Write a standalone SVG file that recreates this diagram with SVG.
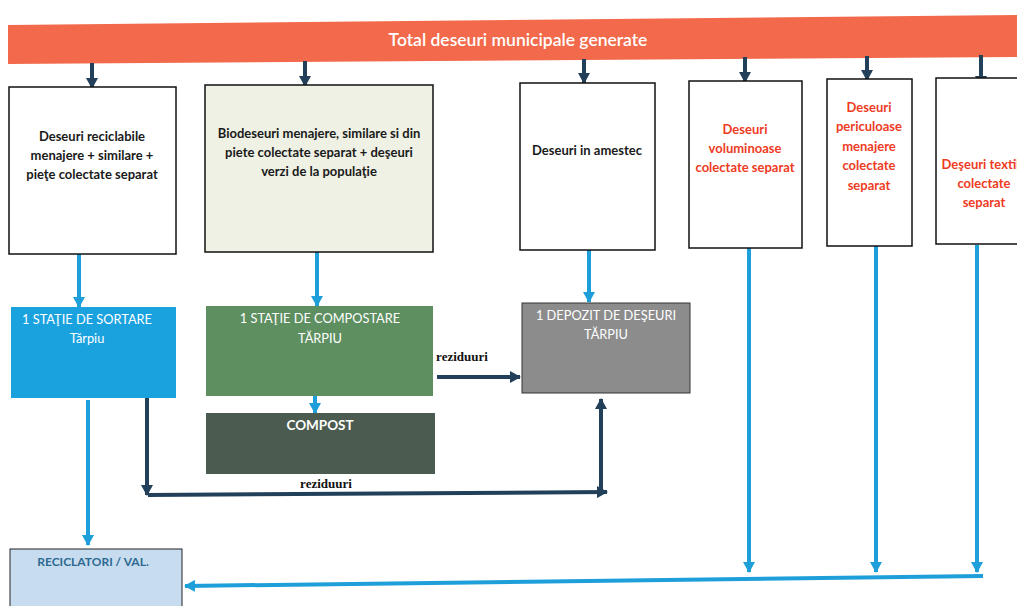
<svg xmlns="http://www.w3.org/2000/svg" width="1017" height="606" viewBox="0 0 1017 606">
<style>
.t{font-family:Lato,"Liberation Sans",sans-serif;font-weight:bold;text-anchor:middle}
.blk{fill:#1a1a1a;font-size:13px}
.red{fill:#EE3B24;font-size:13px}
.wht{fill:#ffffff;font-size:12.8px;font-weight:normal}
.box{stroke:#111;stroke-width:1.5}
.dk{stroke:#23405A;stroke-width:4;fill:none}
.bl{stroke:#1E9FD9;stroke-width:4;fill:none}
.lbl{font-family:"Liberation Serif",serif;font-weight:bold;font-size:13px;fill:#111;text-anchor:middle}
</style>
<defs>
<marker id="ad" markerUnits="userSpaceOnUse" markerWidth="12" markerHeight="12" refX="10" refY="6" orient="auto"><path d="M0,0 L11,6 L0,12 Z" fill="#23405A"/></marker>
<marker id="ab" markerUnits="userSpaceOnUse" markerWidth="12" markerHeight="12" refX="10" refY="6" orient="auto"><path d="M0,0 L11,6 L0,12 Z" fill="#1E9FD9"/></marker>
</defs>
<rect width="1017" height="606" fill="#ffffff"/>
<g id="total">
<polygon points="8,25 1017,15 1017,57 8,64" fill="#F26A4B"/>
<text x="518" y="46" style="font-family:Lato,'Liberation Sans',sans-serif;font-size:17.5px;fill:#fff;text-anchor:middle;font-weight:600">Total deseuri municipale  generate</text>
</g>
<g id="connectors">
<line class="dk" x1="92" y1="63" x2="92" y2="88" marker-end="url(#ad)"/>
<line class="dk" x1="305" y1="61" x2="305" y2="86" marker-end="url(#ad)"/>
<line class="dk" x1="584" y1="59" x2="584" y2="83" marker-end="url(#ad)"/>
<line class="dk" x1="745" y1="57" x2="745" y2="82" marker-end="url(#ad)"/>
<line class="dk" x1="867" y1="56" x2="867" y2="80" marker-end="url(#ad)"/>
<line class="dk" x1="981" y1="55" x2="981" y2="86" marker-end="url(#ad)"/>
<line class="bl" x1="79" y1="254" x2="79" y2="307" marker-end="url(#ab)"/>
<line class="bl" x1="317" y1="252" x2="317" y2="306" marker-end="url(#ab)"/>
<line class="bl" x1="589" y1="250" x2="589" y2="302" marker-end="url(#ab)"/>
<line class="bl" x1="315" y1="396" x2="315" y2="413" marker-end="url(#ab)"/>
<line class="bl" x1="88" y1="400" x2="88" y2="545" marker-end="url(#ab)"/>
<line class="dk" x1="437" y1="377" x2="520" y2="377" marker-end="url(#ad)"/>
<line class="dk" x1="147" y1="398" x2="147" y2="495" marker-end="url(#ad)"/>
<line class="dk" x1="148" y1="495" x2="607" y2="492" marker-end="url(#ad)"/>
<line class="dk" x1="601" y1="490" x2="601" y2="399" marker-end="url(#ad)"/>
<line class="bl" x1="749" y1="248" x2="749" y2="572" marker-end="url(#ab)"/>
<line class="bl" x1="876" y1="246" x2="876" y2="572" marker-end="url(#ab)"/>
<line class="bl" x1="977" y1="245" x2="977" y2="572" marker-end="url(#ab)"/>
<line class="bl" x1="983" y1="576" x2="185" y2="586" marker-end="url(#ab)"/>
<text class="lbl" x="462" y="361">reziduuri</text>
<text class="lbl" x="326" y="488">reziduuri</text>
</g>
<g id="n1">
<rect class="box" x="9" y="87" width="167" height="167" fill="#ffffff"/>
<text class="t blk" x="92" y="141">Deseuri reciclabile</text>
<text class="t blk" x="92" y="160">menajere + similare +</text>
<text class="t blk" x="92" y="179">pieţe colectate separat</text>
</g>
<g id="n2">
<rect class="box" x="205" y="85" width="228" height="167" fill="#EEF1E4"/>
<text class="t blk" x="319" y="138">Biodeseuri menajere, similare si din</text>
<text class="t blk" x="319" y="157">piete colectate separat + deşeuri</text>
<text class="t blk" x="319" y="176">verzi de la populaţie</text>
</g>
<g id="n3">
<rect class="box" x="520" y="83" width="135" height="167" fill="#ffffff"/>
<text class="t blk" x="587" y="155">Deseuri in amestec</text>
</g>
<g id="n4">
<rect class="box" x="689" y="81" width="113" height="167" fill="#ffffff"/>
<text class="t red" x="745" y="134">Deseuri</text>
<text class="t red" x="745" y="153">voluminoase</text>
<text class="t red" x="745" y="172">colectate separat</text>
</g>
<g id="n5">
<rect class="box" x="827" y="79" width="85" height="167" fill="#ffffff"/>
<text class="t red" x="869" y="112">Deseuri</text>
<text class="t red" x="869" y="131">periculoase</text>
<text class="t red" x="869" y="151">menajere</text>
<text class="t red" x="869" y="170">colectate</text>
<text class="t red" x="869" y="190">separat</text>
</g>
<g id="n6">
<rect class="box" x="936" y="78" width="90" height="166" fill="#ffffff"/>
<text class="t red" x="984" y="169">Deşeuri textile</text>
<text class="t red" x="984" y="188">colectate</text>
<text class="t red" x="984" y="207">separat</text>
</g>
<g id="sortare">
<rect x="11" y="307" width="165" height="91" fill="#1AA2DF"/>
<text class="t wht" x="87" y="324">1 STAŢIE DE SORTARE</text>
<text class="t wht" x="87" y="343">Tărpiu</text>
</g>
<g id="compostare">
<rect x="206" y="306" width="227" height="90" fill="#5E8F60"/>
<text class="t wht" x="320" y="323">1 STAŢIE DE COMPOSTARE</text>
<text class="t wht" x="320" y="343">TĂRPIU</text>
</g>
<g id="compost">
<rect x="206" y="413" width="229" height="61" fill="#4B5B4F"/>
<text class="t" x="320" y="430" style="fill:#fff;font-size:13.5px">COMPOST</text>
</g>
<g id="depozit">
<rect x="522" y="303" width="168" height="90" fill="#8C8C8C" stroke="#333" stroke-width="1"/>
<text class="t wht" x="606" y="320">1 DEPOZIT DE DEŞEURI</text>
<text class="t wht" x="606" y="339">TĂRPIU</text>
</g>
<g id="reciclatori">
<rect x="10" y="549" width="172" height="60" fill="#C8DCF0" stroke="#222" stroke-width="1"/>
<text class="t" x="93" y="566" style="fill:#2C6A91;font-size:12px">RECICLATORI / VAL.</text>
</g>
</svg>
